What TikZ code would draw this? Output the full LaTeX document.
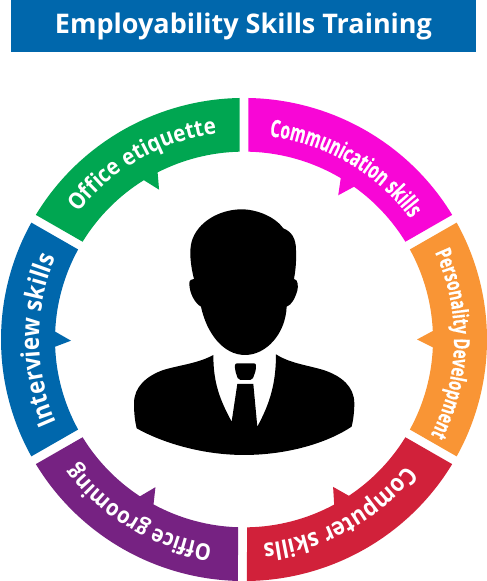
\documentclass[tikz,border=0pt]{standalone}
\usepackage{fontspec}
\usetikzlibrary{decorations.text}
\newfontfamily\ringbold[FakeStretch=1.0]{Open Sans}
\newfontfamily\ringa[FakeStretch=0.65,BoldFeatures={FakeBold=0.5}]{Open Sans}
\newfontfamily\ringb[FakeStretch=0.68,BoldFeatures={FakeBold=0.5}]{Open Sans}
\newfontfamily\ringc[FakeStretch=0.88]{Open Sans}
\newfontfamily\ringd[FakeStretch=0.9]{Open Sans}
\definecolor{cTitle}{HTML}{0067AC}
\definecolor{cMagenta}{HTML}{F806D6}
\definecolor{cGreen}{HTML}{00A651}
\definecolor{cBlue}{HTML}{0067AC}
\definecolor{cOrange}{HTML}{F99535}
\definecolor{cRed}{HTML}{D1213A}
\definecolor{cPurple}{HTML}{762282}
\newcommand\ringseg[6]{%
  \fill[#1] (#2-1.06:243) arc[start angle=#2-1.06,end angle=#3+1.06,radius=243]
    -- (#3+1.36:189) arc[start angle=#3+1.36,end angle=#4,radius=189]
    -- (#5:173) -- (#6:189) arc[start angle=#6,end angle=#2-1.36,radius=189] -- cycle;}
% centre angle, radius, font, text
\newcommand\ringtext[4]{%
  \path[decorate,decoration={text along path,text align=center,
    text={|\color{white}\bfseries#3|#4}}]
    (#1+40:#2) arc[start angle=#1+40,end angle=#1-40,radius=#2];}
\begin{document}
\begin{tikzpicture}[x=1pt,y=1pt]
\useasboundingbox (0,0) rectangle (487,581);
\fill[white] (0,0) rectangle (487,581);
\fill[cTitle] (11,529) rectangle (476,581);
\node[text=white,font={\ringbold\bfseries\fontsize{27}{30}\selectfont},anchor=center] (title) at (243.5,554.5) {Employability Skills Training};
\begin{scope}[shift={(244,241.5)},yscale=.994]
\ringseg{cMagenta}{90}{30}{54.4}{57}{59.2}
\ringseg{cOrange}{30}{-30}{-2.4}{0}{2.6}
\ringseg{cRed}{-30}{-90.4}{-61.5}{-59}{-56.3}
\ringseg{cPurple}{-90.4}{-150}{236.6-360}{239.2-360}{241.4-360}
\ringseg{cBlue}{210}{150}{177.6}{180.4}{182.2}
\ringseg{cGreen}{150}{90}{117.2}{119.4}{122}
\ringtext{59.5}{206}{\ringa\fontsize{24}{26}\selectfont}{Communication skills}
\ringtext{-1.25}{210}{\ringb\fontsize{22}{24}\selectfont}{Personality Development}
\ringtext{-61.25}{206}{\ringc\fontsize{24.5}{26}\selectfont}{Computer skills}
\ringtext{-121}{209}{\ringc\fontsize{23}{25}\selectfont}{Office grooming}
\ringtext{180.25}{205}{\ringc\fontsize{25.5}{27}\selectfont}{Interview skills}
\ringtext{120}{209}{\ringd\fontsize{23}{24}\selectfont}{Office etiquette}
\end{scope}
\begin{scope}[shift={(120,381)},x=.3333pt,y=-.3333pt]
\fill[black] (365,28) .. controls (410,28) and (465,50) .. (490,85)
  .. controls (515,95) and (528,115) .. (528,150)
  .. controls (530,190) and (525,220) .. (522,237)
  .. controls (535,238) and (535,260) .. (532,272)
  .. controls (525,295) and (515,315) .. (500,320)
  .. controls (497,400) and (440,465) .. (375,465)
  .. controls (310,465) and (260,400) .. (243,320)
  .. controls (225,310) and (208,280) .. (208,250)
  .. controls (208,240) and (215,237) .. (222,237)
  .. controls (210,190) and (208,150) .. (215,125)
  .. controls (232,65) and (300,28) .. (365,28) -- cycle;
\fill[black] (280,465) .. controls (235,490) and (180,495) .. (130,510)
  .. controls (80,528) and (42,560) .. (42,610)
  .. controls (42,640) and (45,665) .. (50,685)
  .. controls (130,730) and (250,765) .. (372,765)
  .. controls (500,765) and (620,730) .. (695,680)
  .. controls (700,660) and (703,635) .. (703,610)
  .. controls (703,560) and (665,528) .. (610,510)
  .. controls (560,495) and (510,490) .. (468,463)
  .. controls (468,550) and (450,610) .. (412,680)
  -- (400,552) -- (352,552) -- (335,665)
  .. controls (300,600) and (280,550) .. (280,465) -- cycle;
\fill[black,rounded corners=2pt] (345,490) -- (408,490) -- (408,510) -- (397,540) -- (355,540) -- (345,510) -- cycle;
\end{scope}
\end{tikzpicture}
\end{document}
